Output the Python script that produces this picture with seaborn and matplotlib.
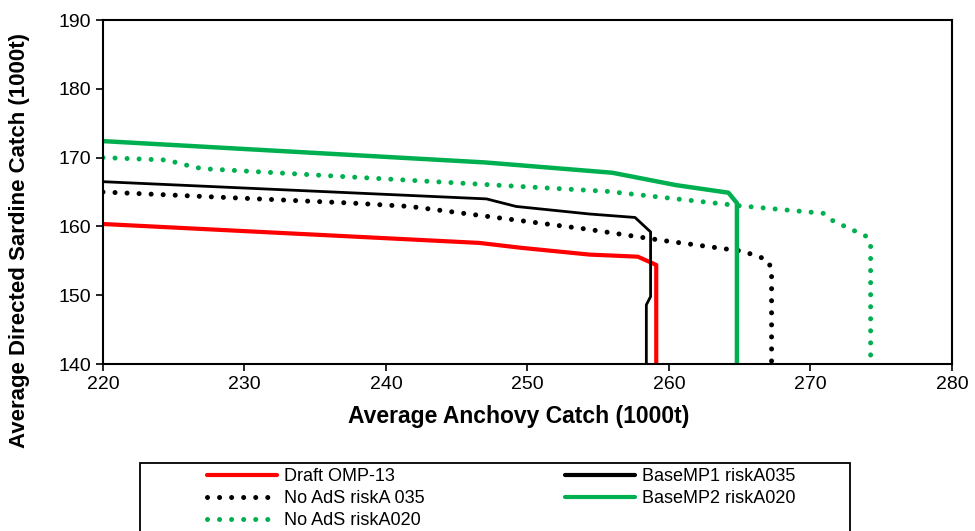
import numpy as np
import pandas as pd
import seaborn as sns
from matplotlib import pyplot as plt
from matplotlib.patches import Rectangle

# values (anchovy catch x, sardine catch y)
draft_x = [220, 246.6, 249.5, 254.4, 257.8, 259.1, 259.1]
draft_y = [160.35, 157.6, 156.9, 155.9, 155.6, 154.4, 140]

base1_x = [220, 247.1, 249.2, 254.4, 257.6, 258.7, 258.7, 258.4, 258.4]
base1_y = [166.5, 164.0, 162.9, 161.8, 161.3, 159.2, 149.8, 148.6, 140]

noads035_x = [220, 237.5, 241.7, 254.2, 259.4, 265.2, 266.9, 267.25, 267.25]
noads035_y = [165.0, 163.4, 162.9, 159.6, 158.0, 156.4, 155.2, 153.9, 140]

base2_x = [220, 247, 256, 258, 260.5, 264.2, 264.8, 264.8]
base2_y = [172.4, 169.3, 167.8, 167.0, 166.0, 164.9, 163.4, 140]

noads020_x = [220, 224.5, 226.1, 227, 255.6, 265, 270.9, 271.6, 273.9, 274.25, 274.25]
noads020_y = [170.0, 169.65, 168.8, 168.4, 165.1, 163.0, 161.9, 160.8, 158.6, 157.4, 140]

x_ticks = [220, 230, 240, 250, 260, 270, 280]
y_ticks = [140, 150, 160, 170, 180, 190]

sns.set_style("ticks")
plt.rcParams['font.family'] = ['Liberation Sans', 'DejaVu Sans']
plt.rcParams['text.color'] = 'black'
plt.rcParams['axes.labelcolor'] = 'black'

GREEN = '#00B050'
DOT = (0, (0.01, 2.4))

W, H = 975, 531
fig = plt.figure(figsize=(W / 100, H / 100), dpi=100)
ax = fig.add_axes([0.1056, 0.3145, 0.8708, 0.6478])

series = [
    ('Draft OMP-13', draft_x, draft_y, 'red', '-', 3.0),
    ('No AdS riskA 035', noads035_x, noads035_y, 'black', DOT, 3.6),
    ('No AdS riskA020', noads020_x, noads020_y, GREEN, DOT, 3.6),
    ('BaseMP1 riskA035', base1_x, base1_y, 'black', '-', 2.0),
    ('BaseMP2 riskA020', base2_x, base2_y, GREEN, '-', 3.2),
]

handles = []
for name, xs, ys, col, ls, lw in series:
    df = pd.DataFrame({'x': xs, 'y': ys})
    sns.lineplot(data=df, x='x', y='y', sort=False, estimator=None, ax=ax,
                 color=col, linewidth=lw, legend=False)
    line = ax.lines[-1]
    line.set_linestyle(ls)
    line.set_dash_capstyle('round')
    line.set_solid_joinstyle('round')
    handles.append(line)

ax.set_xlim(220, 280)
ax.set_ylim(140, 190)
ax.set_xticks(x_ticks)
ax.set_yticks(y_ticks)
ax.tick_params(labelsize=14, length=5, width=1.2, colors='black')
for sp in ax.spines.values():
    sp.set_linewidth(1.5)
    sp.set_color('black')

ax.set_xlabel('Average Anchovy Catch (1000t)', fontsize=16.5, fontweight='bold',
              color='black')
ax.set_ylabel('Average Directed Sardine Catch (1000t)', fontsize=16, fontweight='bold',
              color='black')
ax.xaxis.set_label_coords(0.49, -0.12)
ax.yaxis.set_label_coords(-0.086, 0.36)

# legend: box plus two columns, laid out like the spreadsheet original
legend_kw = dict(loc='upper left', bbox_transform=fig.transFigure, fontsize=13,
                 frameon=False, handlelength=3.9, handletextpad=0.35,
                 borderpad=0, borderaxespad=0, labelspacing=0.28,
                 labelcolor='black')
leg1 = fig.legend(handles=handles[:3], labels=[s[0] for s in series[:3]],
                  bbox_to_anchor=(207 / W, 1 - 468 / H), **legend_kw)
leg2 = fig.legend(handles=handles[3:], labels=[s[0] for s in series[3:]],
                  bbox_to_anchor=(565 / W, 1 - 468 / H), **legend_kw)
for lg in (leg1, leg2):
    for h in lg.legend_handles:
        h.set_dash_capstyle('round')
        if h.get_linestyle() == '-':
            h.set_linewidth(3.0)

fig.add_artist(Rectangle((140 / W, -0.02), 710 / W, (H - 463) / H + 0.02,
                         transform=fig.transFigure, fill=False,
                         edgecolor='black', linewidth=1.3, clip_on=False))

fig.savefig('out.png', dpi=100)
